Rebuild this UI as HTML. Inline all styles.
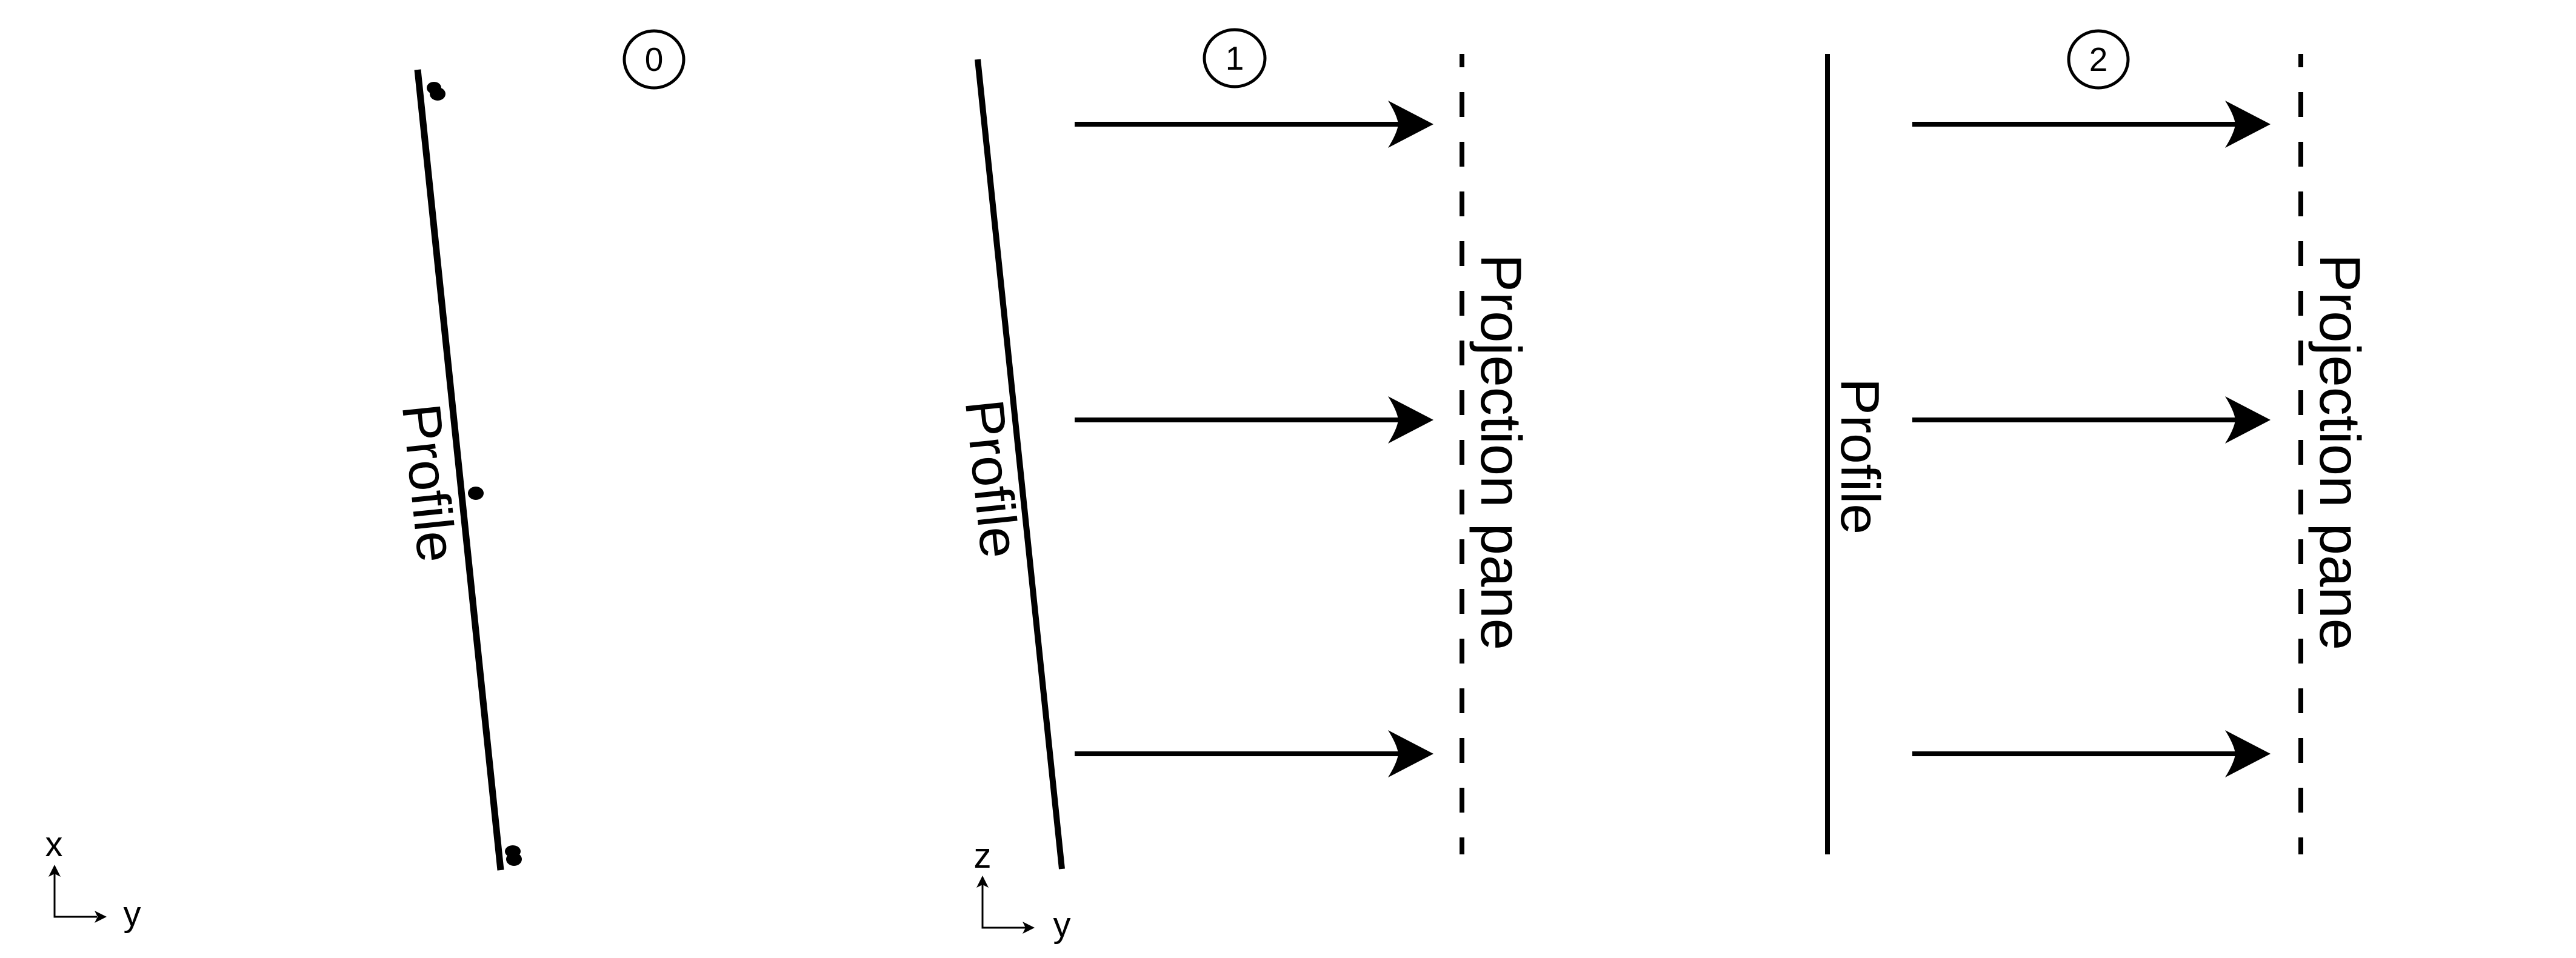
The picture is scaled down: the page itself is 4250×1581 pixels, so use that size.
<!DOCTYPE html>
<html><head><meta charset="utf-8"><style>
html,body{margin:0;padding:0;background:#fff;}
svg{display:block;}
text{font-family:"Liberation Sans",sans-serif;fill:#000;}
</style></head><body>
<svg width="4250" height="1581" viewBox="0 0 4250 1581" xmlns="http://www.w3.org/2000/svg">
<defs>
<path id="head" d="M0 0 L-75 -39 Q-60 -15 -58 0 Q-60 15 -75 39 Z"/>
<path id="shead" d="M0 0 L-20 -10 L-15 0 L-20 10 Z"/>
</defs>

<!-- Panel 0 -->
<g>
  <ellipse cx="1079" cy="98" rx="49" ry="47" fill="none" stroke="#000" stroke-width="5"/>
  <text x="1079" y="117" font-size="55" text-anchor="middle">0</text>
  <line x1="689" y1="115" x2="826" y2="1436" stroke="#000" stroke-width="11"/>
  <text transform="translate(707,797) rotate(84.08)" font-size="90" text-anchor="middle" dominant-baseline="central" textLength="262" lengthAdjust="spacingAndGlyphs">Profile</text>
  <g>
    <ellipse cx="716" cy="145" rx="12" ry="10" fill="#000"/>
    <ellipse cx="722" cy="155" rx="13" ry="11" fill="#000"/>
    <ellipse cx="785" cy="814" rx="13" ry="11" fill="#000"/>
    <ellipse cx="846" cy="1405" rx="13" ry="10" fill="#000"/>
    <ellipse cx="848" cy="1418" rx="13" ry="11" fill="#000"/>
  </g>
  <g>
    <polyline points="90,1440 90,1513 160,1513" fill="none" stroke="#000" stroke-width="3"/>
    <use href="#shead" transform="translate(90,1427) rotate(-90)"/>
    <use href="#shead" transform="translate(176,1513)"/>
    <text x="89" y="1413" font-size="58" text-anchor="middle">x</text>
    <text x="218" y="1528" font-size="58" text-anchor="middle">y</text>
  </g>
</g>

<!-- Panel 1 -->
<g>
  <ellipse cx="2037" cy="96" rx="50" ry="47" fill="none" stroke="#000" stroke-width="5"/>
  <text x="2037" y="115" font-size="55" text-anchor="middle">1</text>
  <line x1="1613" y1="98" x2="1752" y2="1434" stroke="#000" stroke-width="10"/>
  <text transform="translate(1636,790) rotate(84.06)" font-size="90" text-anchor="middle" dominant-baseline="central" textLength="262" lengthAdjust="spacingAndGlyphs">Profile</text>
  <g>
    <line x1="1773" y1="205" x2="2312" y2="205" stroke="#000" stroke-width="8"/>
    <use href="#head" transform="translate(2365,205)"/>
    <line x1="1773" y1="693" x2="2312" y2="693" stroke="#000" stroke-width="8"/>
    <use href="#head" transform="translate(2365,693)"/>
    <line x1="1773" y1="1244" x2="2312" y2="1244" stroke="#000" stroke-width="8"/>
    <use href="#head" transform="translate(2365,1244)"/>
  </g>
  <line x1="2412" y1="89" x2="2412" y2="1410" stroke="#000" stroke-width="8" stroke-dasharray="41 41" stroke-dashoffset="19"/>
  <text transform="translate(2476,746) rotate(90)" font-size="95" text-anchor="middle" dominant-baseline="central" textLength="654" lengthAdjust="spacingAndGlyphs">Projection pane</text>
  <g>
    <polyline points="1621,1458 1621,1531 1692,1531" fill="none" stroke="#000" stroke-width="3"/>
    <use href="#shead" transform="translate(1621,1445) rotate(-90)"/>
    <use href="#shead" transform="translate(1707,1531)"/>
    <text x="1621" y="1432" font-size="58" text-anchor="middle">z</text>
    <text x="1752" y="1546" font-size="58" text-anchor="middle">y</text>
  </g>
</g>

<!-- Panel 2 -->
<g>
  <ellipse cx="3462" cy="98" rx="49" ry="47" fill="none" stroke="#000" stroke-width="5"/>
  <text x="3462" y="117" font-size="55" text-anchor="middle">2</text>
  <line x1="3015" y1="89" x2="3015" y2="1410" stroke="#000" stroke-width="8"/>
  <text transform="translate(3068,753) rotate(90)" font-size="90" text-anchor="middle" dominant-baseline="central" textLength="258" lengthAdjust="spacingAndGlyphs">Profile</text>
  <g>
    <line x1="3155" y1="205" x2="3693" y2="205" stroke="#000" stroke-width="8"/>
    <use href="#head" transform="translate(3746,205)"/>
    <line x1="3155" y1="693" x2="3693" y2="693" stroke="#000" stroke-width="8"/>
    <use href="#head" transform="translate(3746,693)"/>
    <line x1="3155" y1="1244" x2="3693" y2="1244" stroke="#000" stroke-width="8"/>
    <use href="#head" transform="translate(3746,1244)"/>
  </g>
  <line x1="3796" y1="89" x2="3796" y2="1410" stroke="#000" stroke-width="8" stroke-dasharray="41 41" stroke-dashoffset="19"/>
  <text transform="translate(3860,746) rotate(90)" font-size="95" text-anchor="middle" dominant-baseline="central" textLength="654" lengthAdjust="spacingAndGlyphs">Projection pane</text>
</g>
</svg>
</body></html>
